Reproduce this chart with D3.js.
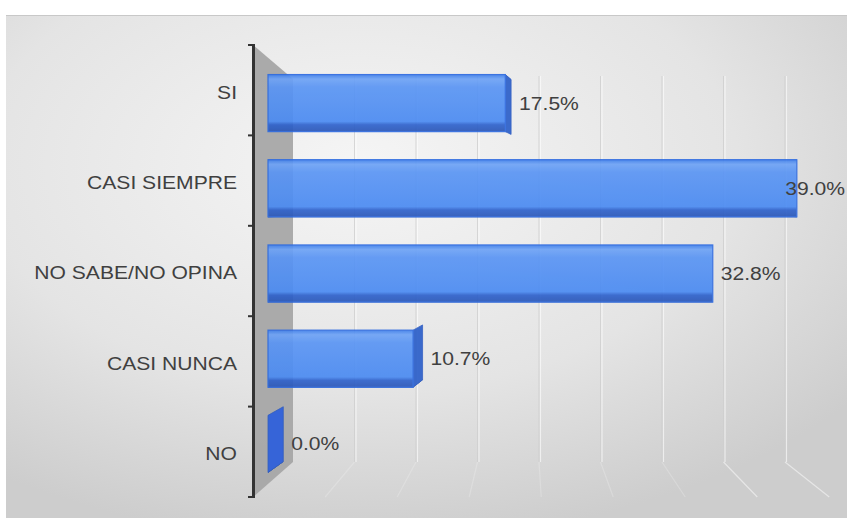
<!DOCTYPE html>
<html>
<head>
<meta charset="utf-8">
<script src="https://cdn.jsdelivr.net/npm/d3@7"></script>
<style>
  html, body { margin: 0; padding: 0; background: #fff; }
  svg { display: block; font-family: "Liberation Sans", Arial, sans-serif; }
</style>
</head>
<body>
<svg id="chart" width="847" height="521"></svg>
<script>
// data
const categories = ["SI", "CASI SIEMPRE", "NO SABE/NO OPINA", "CASI NUNCA", "NO"];
const values = [17.5, 39.0, 32.8, 10.7, 0.0];
const gridValues = [5, 10, 15, 20, 25, 30, 35, 40];

let svg = d3.select("#chart"),
    width = 847,
    height = 521;

const fontSize = 18.5, stretch = 1.14;

let defs = svg.append("defs");

// panel background, light in the middle, greyer at the sides
let bgGrad = defs.append("radialGradient")
    .attr("id", "bgGrad")
    .attr("cx", "0.42").attr("cy", "0.3").attr("r", "0.75");
bgGrad.append("stop").attr("offset", "0%").attr("stop-color", "#f5f5f5");
bgGrad.append("stop").attr("offset", "60%").attr("stop-color", "#e4e4e4");
bgGrad.append("stop").attr("offset", "100%").attr("stop-color", "#cdcdcd");

let barGrad = defs.append("linearGradient")
    .attr("id", "barGrad")
    .attr("x1", 0).attr("y1", 0).attr("x2", 0).attr("y2", 1);
barGrad.append("stop").attr("offset", "0%").attr("stop-color", "#3f7fea");
barGrad.append("stop").attr("offset", "8%").attr("stop-color", "#6ea3f6");
barGrad.append("stop").attr("offset", "22%").attr("stop-color", "#5a95f4");
barGrad.append("stop").attr("offset", "82%").attr("stop-color", "#4b8bf2");
barGrad.append("stop").attr("offset", "88%").attr("stop-color", "#2f62cc");
barGrad.append("stop").attr("offset", "100%").attr("stop-color", "#2a57b8");

svg.append("rect")
    .attr("x", 6).attr("y", 15)
    .attr("width", width - 6).attr("height", 503)
    .attr("fill", "url(#bgGrad)");

svg.append("line")
    .attr("x1", 6).attr("x2", width).attr("y1", 15.5).attr("y2", 15.5)
    .attr("stroke", "#c8c8c8");

// front plane scales
let axisY = d3.scaleBand().domain(categories).range([45, 497]);
let barY = d3.scaleBand().domain(categories).range([60.5, 486.5])
    .paddingInner(0.33).paddingOuter(0.165);
let x = d3.scaleLinear().domain([0, 45]).range([268, 268 + 45 * 13.56]);
// back wall scale (perspective, shorter)
let xBack = d3.scaleLinear().domain([0, 45]).range([293, 293 + 45 * 12.3]);

// perspective helpers
const floorVp = 526, floorK = 0.854;
const barVp = [650, 200], barK = 0.96;
function depth(p) {
    return [barVp[0] + barK * (p[0] - barVp[0]), barVp[1] + barK * (p[1] - barVp[1])];
}

// side wall
svg.append("path")
    .attr("d", d3.line()([[253, 45], [293, 79], [293, 462], [253, 497]]) + "Z")
    .attr("fill", "#a7a7a7")
    .attr("opacity", 0.95);

// gridlines on the back wall and the floor
let grid = svg.append("g").attr("class", "grid");
grid.selectAll("line.shade")
    .data(gridValues)
    .enter().append("line")
    .attr("class", "shade")
    .attr("x1", d => xBack(d)).attr("x2", d => xBack(d))
    .attr("y1", 76).attr("y2", 462)
    .attr("stroke", "#cfcfcf").attr("stroke-width", 1)
    .attr("opacity", 0.8);
grid.selectAll("line.back")
    .data(gridValues)
    .enter().append("line")
    .attr("class", "back")
    .attr("x1", d => xBack(d) + 1.5).attr("x2", d => xBack(d) + 1.5)
    .attr("y1", 76).attr("y2", 462)
    .attr("stroke", "#ffffff").attr("stroke-width", 1.2)
    .attr("opacity", 0.6);
grid.selectAll("line.floor")
    .data(gridValues)
    .enter().append("line")
    .attr("class", "floor")
    .attr("x1", d => xBack(d)).attr("y1", 462)
    .attr("x2", d => floorVp + (xBack(d) - floorVp) / floorK).attr("y2", 497)
    .attr("stroke", "#f8f8f8").attr("stroke-width", 1.2)
    .attr("opacity", d => d >= 35 ? 0.6 : 0.25);

// bars drawn as boxes
let bars = svg.append("g").attr("class", "bars")
    .selectAll("g")
    .data(categories.map((c, i) => ({cat: c, value: values[i]})))
    .enter().append("g")
    .attr("opacity", 0.92);

bars.each(function (d) {
    let g = d3.select(this);
    let x0 = x(0), x1 = x(d.value);
    let y0 = barY(d.cat), y1 = y0 + barY.bandwidth();
    let fTL = [x0, y0], fTR = [x1, y0], fBR = [x1, y1], fBL = [x0, y1];
    let bTL = depth(fTL), bTR = depth(fTR), bBR = depth(fBR), bBL = depth(fBL);

    if (bTL[1] > y0) {
        g.append("path").attr("d", d3.line()([fTL, fTR, bTR, bTL]) + "Z")
            .attr("fill", "#7dadf7").attr("stroke", "#3a78e6").attr("stroke-width", 0.8);
    }
    if (bBL[1] < y1) {
        g.append("path").attr("d", d3.line()([fBL, fBR, bBR, bBL]) + "Z")
            .attr("fill", "#2652b0").attr("stroke", "#2652b0").attr("stroke-width", 0.8);
    }
    if (bTR[0] > x1) {
        g.append("path").attr("d", d3.line()([fTR, bTR, bBR, fBR]) + "Z")
            .attr("fill", d.value === 0 ? "#2d5fdc" : "#2c5fc9")
            .attr("stroke", "#2a58c0").attr("stroke-width", 0.8);
    }
    if (x1 > x0) {
        g.append("rect")
            .attr("x", x0).attr("y", y0)
            .attr("width", x1 - x0).attr("height", y1 - y0)
            .attr("fill", "url(#barGrad)")
            .attr("stroke", "#2e6ae0").attr("stroke-width", 1.2);
    }
});

// value labels
let valueLabels = svg.append("g").attr("class", "labels")
    .selectAll("text")
    .data(categories.map((c, i) => ({cat: c, value: values[i]})))
    .enter().append("text")
    .attr("dy", "0.35em")
    .attr("font-size", fontSize)
    .attr("fill", "#404040")
    .text(d => d.value.toFixed(1) + "%");

// place labels after the bar end, pulled back inside the panel if needed
valueLabels.attr("transform", function (d) {
    let w = this.getComputedTextLength() * stretch;
    let lx = Math.min(Math.max(x(d.value), depth([x(d.value), 0])[0]) + 8, width - w - 2);
    let ly = barY(d.cat) + barY.bandwidth() / 2;
    return "translate(" + lx + "," + ly + ") scale(" + stretch + ",1)";
});

// category axis
let axis = svg.append("g").attr("class", "axis");
axis.append("line")
    .attr("x1", 253.5).attr("x2", 253.5).attr("y1", 44).attr("y2", 498)
    .attr("stroke", "#333").attr("stroke-width", 3);
axis.selectAll("line.tick")
    .data(d3.range(categories.length + 1))
    .enter().append("line")
    .attr("class", "tick")
    .attr("x1", 248).attr("x2", 253)
    .attr("y1", i => axisY.range()[0] + i * axisY.step())
    .attr("y2", i => axisY.range()[0] + i * axisY.step())
    .attr("stroke", "#333").attr("stroke-width", 2);
axis.selectAll("text")
    .data(categories)
    .enter().append("text")
    .attr("transform", d => "translate(237," + (axisY(d) + axisY.bandwidth() / 2 + 2) + ") scale(" + stretch + ",1)")
    .attr("dy", "0.35em")
    .attr("text-anchor", "end")
    .attr("font-size", fontSize)
    .attr("fill", "#404040")
    .text(d => d);
</script>
</body>
</html>
